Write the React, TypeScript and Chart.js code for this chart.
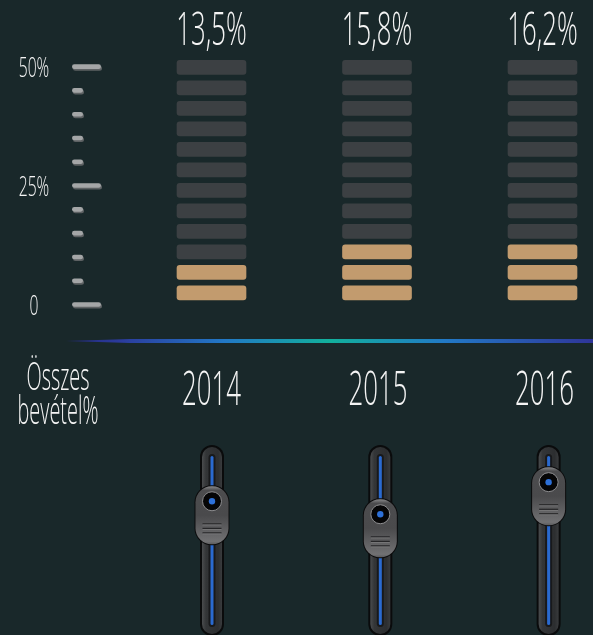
import React, { useEffect, useRef } from 'react';
import { Chart, registerables } from 'chart.js';

Chart.register(...registerables);

const years = ['2014', '2015', '2016'];
const revenueShare = [13.5, 15.8, 16.2];
const litSegments = [2, 3, 3];
const segmentCount = 12;
const axisTicks = [0, 5, 10, 15, 20, 25, 30, 35, 40, 45, 50];
const axisLabels = ['0', '', '', '', '', '25%', '', '', '', '', '50%'];
const axisTitle = ['Összes', 'bevétel%'];
const knobLevels = [0.216, 0.284, 0.116];

const BG = '#19282a';
const DARK = '#3c4043';
const TAN = '#c29b6e';
const FONT = '"Open Sans"';

function condensed(ctx: CanvasRenderingContext2D, text: string, x: number, y: number, size: number, sx: number, weight = '300') {
  ctx.save();
  ctx.font = `${weight} ${size}px ${FONT}`;
  ctx.translate(x, y);
  ctx.scale(sx, 1);
  ctx.textAlign = 'center';
  ctx.textBaseline = 'alphabetic';
  ctx.fillStyle = '#f4f4f4';
  ctx.fillText(text, 0, 0);
  ctx.restore();
}

function rr(ctx: CanvasRenderingContext2D, x: number, y: number, w: number, h: number, r: number) {
  ctx.beginPath();
  ctx.moveTo(x + r, y);
  ctx.lineTo(x + w - r, y);
  ctx.arcTo(x + w, y, x + w, y + r, r);
  ctx.lineTo(x + w, y + h - r);
  ctx.arcTo(x + w, y + h, x + w - r, y + h, r);
  ctx.lineTo(x + r, y + h);
  ctx.arcTo(x, y + h, x, y + h - r, r);
  ctx.lineTo(x, y + r);
  ctx.arcTo(x, y, x + r, y, r);
  ctx.closePath();
}

function drawSlider(ctx: CanvasRenderingContext2D, cx: number, top: number, bottom: number, level: number) {
  const tw = 24;
  rr(ctx, cx - tw / 2, top, tw, bottom - top, 12);
  ctx.fillStyle = '#0a0b0c';
  ctx.fill();
  const g = ctx.createLinearGradient(cx - tw / 2, 0, cx + tw / 2, 0);
  g.addColorStop(0, '#555759');
  g.addColorStop(0.25, '#333537');
  g.addColorStop(0.75, '#2c2e30');
  g.addColorStop(1, '#404244');
  rr(ctx, cx - tw / 2 + 2, top + 2, tw - 4, bottom - top - 4, 10);
  ctx.fillStyle = g;
  ctx.fill();
  rr(ctx, cx - 3.5, top + 9, 7, bottom - top - 18, 3.5);
  ctx.fillStyle = '#18191b';
  ctx.fill();
  rr(ctx, cx - 1.5, top + 11, 3, bottom - top - 22, 1.5);
  ctx.fillStyle = '#2a6ad0';
  ctx.fill();
  const kw = 33, kh = 58;
  const ky = top + level * (bottom - top);
  const kx = cx - kw / 2;
  rr(ctx, kx - 1, ky - 1, kw + 2, kh + 2, 17);
  ctx.fillStyle = '#0b0b0c';
  ctx.fill();
  const kg = ctx.createLinearGradient(0, ky, 0, ky + kh);
  kg.addColorStop(0, '#8a8a8c');
  kg.addColorStop(0.07, '#4c4c4e');
  kg.addColorStop(0.5, '#4a4a4c');
  kg.addColorStop(0.95, '#717173');
  kg.addColorStop(1, '#5a5a5c');
  rr(ctx, kx, ky, kw, kh, 16);
  ctx.fillStyle = kg;
  ctx.fill();
  ctx.beginPath();
  ctx.arc(cx, ky + 15, 9.5, 0, Math.PI * 2);
  ctx.fillStyle = '#050506';
  ctx.fill();
  ctx.lineWidth = 1;
  ctx.strokeStyle = '#8d8d8f';
  ctx.stroke();
  ctx.beginPath();
  ctx.arc(cx, ky + 15, 3.2, 0, Math.PI * 2);
  ctx.fillStyle = '#2d70d8';
  ctx.fill();
  [37, 41.5, 46].forEach((dy) => {
    ctx.fillStyle = '#262628';
    ctx.fillRect(cx - 9.5, ky + dy, 19, 1.3);
    ctx.fillStyle = '#7c7c7e';
    ctx.fillRect(cx - 9.5, ky + dy + 1.3, 19, 0.8);
  });
}

const decor = {
  id: 'decor',
  beforeDraw(chart: any) {
    const { ctx, width, height } = chart;
    ctx.save();
    ctx.fillStyle = BG;
    ctx.fillRect(0, 0, width, height);
    ctx.restore();
  },
  afterDatasetsDraw(chart: any) {
    const ctx: CanvasRenderingContext2D = chart.ctx;
    const xs = chart.scales.x;
    const pct = chart.scales.pct;
    const area = chart.chartArea;
    ctx.save();
    axisTicks.forEach((v, i) => {
      const y = pct.getPixelForValue(v);
      const major = axisLabels[i] !== '';
      const len = major ? 29 : 11;
      rr(ctx, 73, y - 1.5, len, 5, 2.5);
      ctx.fillStyle = '#5d6163';
      ctx.fill();
      rr(ctx, 72, y - 2.8, len, 4.6, 2.3);
      ctx.fillStyle = '#a4a6a7';
      ctx.fill();
      if (major) condensed(ctx, axisLabels[i], 34, y + 10, 28, 0.56);
    });
    years.forEach((_, i) => {
      const cx = xs.getPixelForValue(i);
      const txt = revenueShare[i].toFixed(1).replace('.', ',') + '%';
      condensed(ctx, txt, cx, area.top - 15, 46, 0.56);
    });
    const ly = area.bottom + 36;
    const lg = ctx.createLinearGradient(66, 0, chart.width, 0);
    lg.addColorStop(0, '#232a7a');
    lg.addColorStop(0.1, '#2b3a9c');
    lg.addColorStop(0.3, '#2278c6');
    lg.addColorStop(0.5, '#12b09c');
    lg.addColorStop(0.72, '#2279c6');
    lg.addColorStop(1, '#2f3599');
    ctx.beginPath();
    ctx.moveTo(66, ly);
    ctx.lineTo(130, ly - 2);
    ctx.lineTo(chart.width, ly - 2);
    ctx.lineTo(chart.width, ly + 2);
    ctx.lineTo(130, ly + 2);
    ctx.closePath();
    ctx.fillStyle = lg;
    ctx.fill();
    years.forEach((yr, i) => {
      condensed(ctx, yr, xs.getPixelForValue(i) + i, area.bottom + 100, 47, 0.55);
    });
    condensed(ctx, axisTitle[0], 58, area.bottom + 85, 39, 0.51);
    condensed(ctx, axisTitle[1], 58, area.bottom + 119, 39, 0.51);
    const x0 = xs.getPixelForValue(0);
    years.forEach((_, i) => {
      const cx = x0 + 0.5 + (xs.getPixelForValue(i) - x0) * 1.017;
      drawSlider(ctx, cx, area.bottom + 140, chart.height + 1, knobLevels[i]);
    });
    ctx.restore();
  },
};

export default function App() {
  const ref = useRef<HTMLCanvasElement>(null);
  useEffect(() => {
    document.body.style.margin = '0';
    const datasets = Array.from({ length: segmentCount }, (_, s) => ({
      label: 'seg' + s,
      data: years.map(() => [s, s + 0.68] as [number, number]),
      backgroundColor: years.map((_, c) => (s < litSegments[c] ? TAN : DARK)),
      borderRadius: 3,
      borderSkipped: false,
      barThickness: 69,
      grouped: false,
      clip: false as any,
      yAxisID: 'y',
    }));
    const chart = new Chart(ref.current!, {
      type: 'bar',
      data: { labels: years, datasets },
      options: {
        responsive: false,
        animation: false,
        events: [],
        layout: { padding: { left: 211.5, right: 50.5, top: 60, bottom: 330 } },
        plugins: { legend: { display: false }, tooltip: { enabled: false } },
        scales: {
          x: { type: 'category', offset: false, display: false },
          y: { type: 'linear', min: -0.25, max: 11.7, display: false },
          pct: { type: 'linear', min: 0, max: 51.5, display: false, position: 'left' },
        },
      },
      plugins: [decor],
    });
    return () => chart.destroy();
  }, []);
  return (
    <div style={{ position: 'fixed', left: 0, top: 0, width: 593, height: 635 }}>
      <canvas ref={ref} width={593} height={635} />
    </div>
  );
}
